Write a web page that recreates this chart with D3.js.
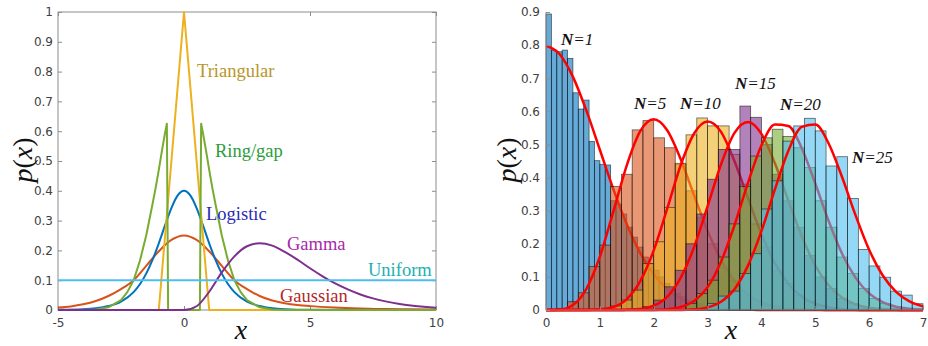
<!DOCTYPE html>
<html><head><meta charset="utf-8">
<script src="https://cdn.jsdelivr.net/npm/d3@7"></script>
<style>body{margin:0;background:#fff}</style>
</head><body><svg id="c" width="928" height="346"></svg>
<script>
// ---------- LEFT CHART DATA ----------
const leftXTicks = [-5, 0, 5, 10];
const leftXTickLabels = ["-5","0","5","10"];
const leftYTicks = [0,0.1,0.2,0.3,0.4,0.5,0.6,0.7,0.8,0.9,1];
const leftYTickLabels = ["0","0.1","0.2","0.3","0.4","0.5","0.6","0.7","0.8","0.9","1"];

const gaussX = [-5,-4.5,-4,-3.5,-3,-2.5,-2,-1.5,-1,-0.5,0,0.5,1,1.5,2,2.5,3,3.5,4,4.5,5,6,7,8,9,10];
const gaussY = [0.008,0.012,0.019,0.03,0.047,0.07,0.1,0.148,0.197,0.235,0.25,0.235,0.197,0.148,0.1,0.07,0.047,0.032,0.023,0.017,0.013,0.008,0.005,0.003,0.0025,0.002];

const logisticX = [-5,-4,-3.5,-3,-2.5,-2,-1.75,-1.5,-1.25,-1,-0.75,-0.5,-0.25,0,0.25,0.5,0.75,1,1.25,1.5,1.75,2,2.5,3,3.5,4,5,10];
const logisticY = [0.0005,0.0026,0.0058,0.0132,0.0283,0.0602,0.0864,0.122,0.168,0.2236,0.2846,0.342,0.3844,0.4,0.3844,0.342,0.2846,0.2236,0.168,0.122,0.0864,0.0602,0.0283,0.0132,0.0058,0.0026,0.0005,0];

const triX = [-5,-1,0,1,10];
const triY = [0,0,1,0,0];

const ringX = [-5,-4,-3.5,-3,-2.5,-2.25,-2,-1.75,-1.5,-1.25,-1.125,-1,-0.875,-0.75,-0.68,-0.63,0.63,0.68,0.75,0.875,1,1.125,1.25,1.5,1.75,2,2.25,2.5,3,3.5,4,10];
const ringY = [0,0.0003,0.002,0.009,0.033,0.06,0.1,0.165,0.25,0.355,0.41,0.47,0.535,0.595,0.625,0,0,0.625,0.595,0.535,0.47,0.41,0.355,0.25,0.165,0.1,0.06,0.033,0.009,0.002,0.0003,0];

const gammaX = [-5,0,0.5,1,1.5,2,2.5,3,3.5,4,4.5,5,5.5,6,6.5,7,7.5,8,8.5,9,9.5,10];
const gammaY = [0,0,0.0126,0.0613,0.126,0.180,0.214,0.224,0.216,0.195,0.169,0.140,0.113,0.089,0.069,0.052,0.039,0.029,0.021,0.015,0.011,0.0076];

const uniformX = [-5,10];
const uniformY = [0.1,0.1];

const leftNames = ["Triangular","Ring/gap","Logistic","Gamma","Uniform","Gaussian"];

// ---------- RIGHT CHART DATA ----------
const rightXTicks = [0,1,2,3,4,5,6,7];
const rightXTickLabels = ["0","1","2","3","4","5","6","7"];
const rightYTicks = [0,0.1,0.2,0.3,0.4,0.5,0.6,0.7,0.8,0.9];
const rightYTickLabels = ["0","0.1","0.2","0.3","0.4","0.5","0.6","0.7","0.8","0.9"];

const seriesN = [1,5,10,15,20,25];
const binWidths = [0.1,0.2,0.2,0.2,0.2,0.2];
const binStarts = [0,0.2,1.2,1.8,2.6,3.0];

const hist1 = [0.894,0.785,0.78,0.785,0.76,0.656,0.607,0.634,0.509,0.451,0.44,0.438,0.33,0.32,0.29,0.25,0.22,0.19,0.16,0.14,0.12,0.1,0.08,0.065,0.05,0.04,0.03,0.025,0.02,0.015,0.01,0.008];
const hist5 = [0.005,0.025,0.052,0.131,0.196,0.373,0.41,0.544,0.572,0.52,0.49,0.44,0.36,0.28,0.2,0.13,0.09,0.05,0.03,0.015];
const hist10 = [0.012,0.03,0.06,0.14,0.206,0.31,0.443,0.529,0.58,0.556,0.556,0.47,0.38,0.26,0.19,0.12,0.08,0.045,0.025,0.012];
const hist15 = [0.01,0.03,0.07,0.12,0.2,0.29,0.395,0.485,0.485,0.616,0.582,0.5,0.41,0.33,0.25,0.165,0.1,0.065,0.035,0.02,0.01];
const hist20 = [0.02,0.05,0.09,0.16,0.26,0.373,0.465,0.52,0.546,0.524,0.49,0.43,0.33,0.25,0.16,0.11,0.065,0.035,0.02,0.01];
const hist25 = [0.02,0.042,0.057,0.11,0.17,0.305,0.39,0.51,0.556,0.579,0.541,0.435,0.463,0.337,0.183,0.133,0.099,0.057,0.045,0.019];

const curveX = [0,0.25,0.5,0.75,1,1.25,1.5,1.75,2,2.25,2.5,2.75,3,3.25,3.5,3.75,4,4.25,4.5,4.75,5,5.25,5.5,5.75,6,6.25,6.5,6.75,7];
const curve1 = [0.798,0.773,0.704,0.602,0.484,0.365,0.259,0.172,0.108,0.063,0.035,0.018,0.009,0.004,0.002,0.001,0,0,0,0,0,0,0,0,0,0,0,0,0];
const curve5 = [0,0.001,0.015,0.064,0.161,0.297,0.437,0.540,0.576,0.543,0.456,0.346,0.239,0.152,0.087,0.046,0.023,0.010,0.004,0.002,0.001,0,0,0,0,0,0,0,0];
const curve10 = [0,0,0,0,0.002,0.009,0.033,0.087,0.180,0.306,0.437,0.533,0.569,0.538,0.449,0.338,0.229,0.141,0.079,0.040,0.019,0.008,0.003,0.001,0,0,0,0,0];
const curve15 = [0,0,0,0,0,0,0.001,0.003,0.013,0.040,0.097,0.190,0.313,0.440,0.535,0.568,0.532,0.443,0.330,0.222,0.134,0.074,0.037,0.017,0.007,0.003,0.001,0,0];
const curve20 = [0,0,0,0,0,0,0,0,0,0.002,0.009,0.027,0.069,0.146,0.256,0.384,0.497,0.560,0.556,0.488,0.382,0.268,0.169,0.097,0.050,0.024,0.010,0.004,0.001];
const curve25 = [0,0,0,0,0,0,0,0,0,0,0,0.002,0.008,0.025,0.063,0.134,0.238,0.364,0.481,0.553,0.560,0.502,0.400,0.285,0.182,0.105,0.055,0.026,0.011];

// ---------- DRAW ----------
const svg = d3.select("#c");
const axisColor = "#8c8c8c", textColor = "#404040";
const tickFont = "DejaVu Sans, sans-serif";
const serif = "Liberation Serif, Times New Roman, serif";

// Left chart
const xL = d3.scaleLinear().domain([-5,10]).range([58,436]);
const yL = d3.scaleLinear().domain([0,1]).range([310,12]);
const gL = svg.append("g");

function styleAxis(g){
  g.selectAll(".domain").remove();
  g.selectAll("line").attr("stroke", axisColor);
  g.selectAll("text").attr("fill", textColor).style("font-family", tickFont).style("font-size","12px");
}
gL.append("g").attr("transform","translate(0,310)")
  .call(d3.axisBottom(xL).tickValues(leftXTicks).tickSize(-4).tickPadding(8).tickSizeOuter(0).tickFormat((d,i)=>leftXTickLabels[i]))
  .call(styleAxis);
gL.append("g").attr("transform","translate(0,12)")
  .call(d3.axisTop(xL).tickValues(leftXTicks).tickSize(-4).tickFormat("").tickSizeOuter(0))
  .call(styleAxis);
gL.append("g").attr("transform","translate(58,0)")
  .call(d3.axisLeft(yL).tickValues(leftYTicks).tickSize(-4).tickPadding(5).tickSizeOuter(0).tickFormat((d,i)=>leftYTickLabels[i]))
  .call(styleAxis);
gL.append("g").attr("transform","translate(436,0)")
  .call(d3.axisRight(yL).tickValues(leftYTicks).tickSize(-4).tickFormat("").tickSizeOuter(0))
  .call(styleAxis);
gL.append("rect").attr("x",xL(-5)).attr("y",yL(1)).attr("width",xL(10)-xL(-5)).attr("height",yL(0)-yL(1))
  .attr("fill","none").attr("stroke",axisColor).attr("stroke-width",1);

const leftCurves = [
  {x:gaussX, y:gaussY, c:"#D95319", curve:d3.curveMonotoneX},
  {x:logisticX, y:logisticY, c:"#0072BD", curve:d3.curveMonotoneX},
  {x:triX, y:triY, c:"#EDB120", curve:d3.curveLinear},
  {x:ringX, y:ringY, c:"#77AC30", curve:d3.curveLinear},
  {x:gammaX, y:gammaY, c:"#7E2F8E", curve:d3.curveMonotoneX},
  {x:uniformX, y:uniformY, c:"#4DBEEE", curve:d3.curveLinear}
];
leftCurves.forEach(s=>{
  const line = d3.line().x((d,i)=>xL(s.x[i])).y(d=>yL(d)).curve(s.curve);
  gL.append("path").attr("d", line(s.y)).attr("fill","none").attr("stroke",s.c)
    .attr("stroke-width",2).attr("stroke-linejoin","round");
});

const leftLabelPos = [[197,77],[215,157],[206,220],[287,249.5],[368,275.5],[280,302]];
const leftLabelColors = ["#B8962A","#2A9D3A","#2B2BB5","#A52AA8","#22AFB0","#B0282A"];
leftNames.forEach((t,i)=>{
  gL.append("text").attr("x",leftLabelPos[i][0]).attr("y",leftLabelPos[i][1]).text(t)
    .attr("fill",leftLabelColors[i]).style("font-family",serif).style("font-size","18.5px");
});

// axis titles
function pxTitle(g, x, y){
  const t = g.append("text").attr("transform",`translate(${x},${y}) rotate(-90)`).attr("text-anchor","middle")
    .style("font-family",serif).style("font-size","28px").attr("fill","#111");
  t.append("tspan").style("font-style","italic").text("p");
  t.append("tspan").text("(");
  t.append("tspan").style("font-style","italic").text("x");
  t.append("tspan").text(")");
}
pxTitle(gL, 32, 160);
gL.append("text").attr("x",241).attr("y",339).attr("text-anchor","middle").style("font-family",serif)
  .style("font-style","italic").style("font-size","28px").attr("fill","#111").text("x");

// Right chart
const xR = d3.scaleLinear().domain([0,7]).range([546,923]);
const yR = d3.scaleLinear().domain([0,0.9]).range([310,12]);
const gR = svg.append("g");

const histColors = ["#0072BD","#D95319","#EDB120","#7E2F8E","#77AC30","#4DBEEE"];
const hists = [hist1,hist5,hist10,hist15,hist20,hist25];
const curves = [curve1,curve5,curve10,curve15,curve20,curve25];
const rline = d3.line().x((d,i)=>xR(curveX[i])).y(d=>yR(d)).curve(d3.curveMonotoneX);

hists.forEach((h,k)=>{
  const w = binWidths[k], s0 = binStarts[k];
  gR.append("g").selectAll("rect").data(h).join("rect")
    .attr("x",(d,i)=>xR(s0+i*w))
    .attr("width",(d,i)=>xR(s0+(i+1)*w)-xR(s0+i*w))
    .attr("y",d=>yR(d))
    .attr("height",d=>yR(0)-yR(d))
    .attr("fill",histColors[k]).attr("fill-opacity",0.6)
    .attr("stroke","#000").attr("stroke-opacity",0.6).attr("stroke-width",0.8);
  gR.append("path").attr("d", rline(curves[k])).attr("fill","none").attr("stroke","#FF0000")
    .attr("stroke-width",2.5).attr("stroke-linejoin","round");
});

gR.append("g").attr("transform","translate(0,310)")
  .call(d3.axisBottom(xR).tickValues(rightXTicks).tickSize(-4).tickPadding(8).tickSizeOuter(0).tickFormat((d,i)=>rightXTickLabels[i]))
  .call(styleAxis);
gR.append("g").attr("transform","translate(546,0)")
  .call(d3.axisLeft(yR).tickValues(rightYTicks).tickSize(-4).tickPadding(6).tickSizeOuter(0).tickFormat((d,i)=>rightYTickLabels[i]))
  .call(styleAxis);
gR.append("line").attr("x1",546).attr("x2",546).attr("y1",12).attr("y2",310).attr("stroke",axisColor);
gR.append("line").attr("x1",546).attr("x2",923).attr("y1",310).attr("y2",310).attr("stroke",axisColor);

const nLabelPos = [[561,45],[634,109],[680,109],[735,89],[780,110],[852,163]];
seriesN.forEach((n,i)=>{
  const t = gR.append("text").attr("x",nLabelPos[i][0]).attr("y",nLabelPos[i][1])
    .style("font-family",serif).style("font-size","17px").style("font-style","italic").attr("fill","#111");
  t.append("tspan").style("font-weight","bold").text("N");
  t.append("tspan").text("=" + n);
});

pxTitle(gR, 516, 160);
gR.append("text").attr("x",731).attr("y",339).attr("text-anchor","middle").style("font-family",serif)
  .style("font-style","italic").style("font-size","28px").attr("fill","#111").text("x");
</script></body></html>
